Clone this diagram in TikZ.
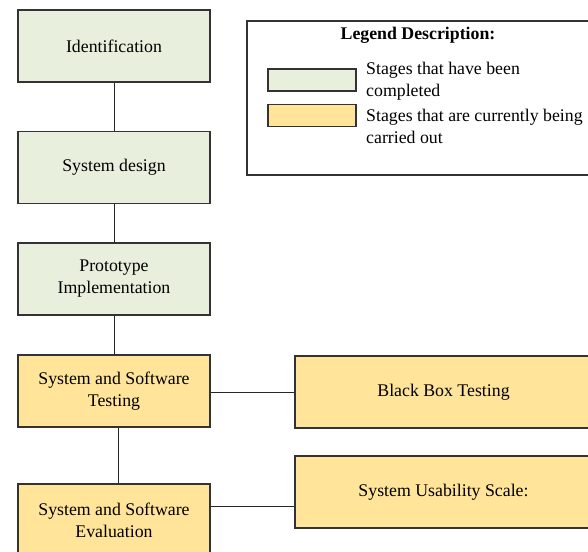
\documentclass[tikz,border=0pt]{standalone}
\usepackage{fontspec}
\setmainfont{Liberation Serif}
\usetikzlibrary{positioning}
\definecolor{donegreen}{HTML}{E9EFDD}
\definecolor{nowyellow}{HTML}{FFE49A}
\definecolor{edgegray}{HTML}{333333}
\tikzset{
  basefont/.style={font=\fontsize{17.8}{22}\selectfont},
  stagebox/.style={draw=edgegray, line width=1.1pt, rectangle, minimum width=192pt, minimum height=72pt, align=center, basefont, inner sep=2pt},
  donebox/.style={stagebox, fill=donegreen},
  nowbox/.style={stagebox, fill=nowyellow},
  widebox/.style={nowbox, minimum width=297pt},
  link/.style={draw=black!85, line width=1pt},
  swatch/.style={draw=edgegray, line width=1.1pt, rectangle, minimum width=88pt, minimum height=22pt, inner sep=0pt},
  legtext/.style={basefont, align=left, anchor=west, inner sep=0pt},
}
\begin{document}
\begin{tikzpicture}[x=1pt,y=-1pt]
\useasboundingbox (0,0) rectangle (588,551);
\clip (0,0) rectangle (588,551);
\fill[white] (0,0) rectangle (588,551);

% main stages
\node[donebox] (id) at (114,46) {Identification};
\node[donebox] (sd) at (114,167.5) {System design};
\node[donebox] (pi) at (114,279) {Prototype\\Implementation};
\node[nowbox] (st) at (114,391) {System and Software\\Testing};
\node[nowbox] (se) at (114,520) {System and Software\\Evaluation};
\node[widebox] (bb) at (443.5,392) {Black Box Testing};
\node[widebox] (sus) at (443.5,492) {System Usability Scale:};

% connectors
\draw[link] (id.south) -- (sd.north);
\draw[link] (sd.south) -- (pi.north);
\draw[link] (pi.south) -- (st.north);
\draw[link] ([xshift=4pt]st.south) -- ([xshift=4pt]se.north);
\draw[link] ([yshift=-1pt]st.east) -- (bb.west);
\draw[link] ([yshift=14pt]se.east) -- ([yshift=14pt]se.east -| sus.west);

% legend
\node[draw=edgegray, line width=1.1pt, rectangle, minimum width=345pt, minimum height=154pt, inner sep=0pt] (leg) at (419.5,98) {};
\node[font=\fontsize{17.8}{22}\selectfont\bfseries] (legtitle) at (418,35) {Legend Description:};
\node[swatch, fill=donegreen] (sw1) at (312,80) {};
\node[swatch, fill=nowyellow] (sw2) at (312,115.5) {};
\node[legtext] (lt1) at (366,81) {Stages that have been\\completed};
\node[legtext] (lt2) at (366,126) {Stages that are currently being\\carried out};
\end{tikzpicture}
\end{document}
